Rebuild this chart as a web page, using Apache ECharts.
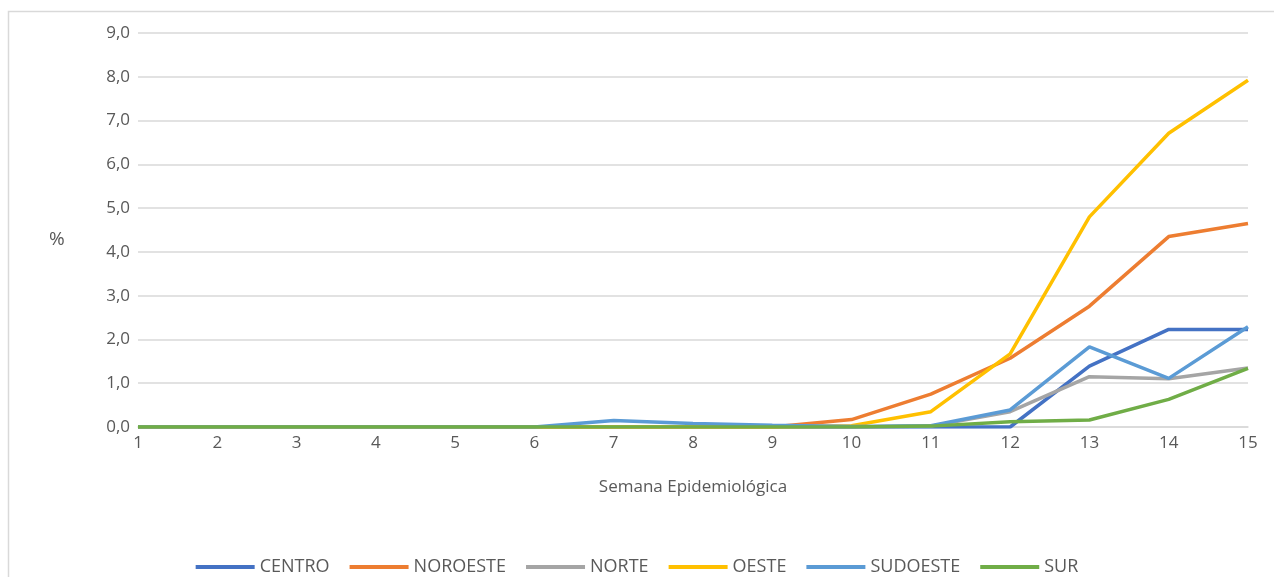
<!DOCTYPE html>
<html>
<head>
<meta charset="utf-8">
<script src="https://cdn.jsdelivr.net/npm/echarts@6/dist/echarts.min.js"></script>
<style>
  html, body { margin: 0; padding: 0; background: #ffffff; }
  #chart { width: 1274px; height: 577px; }
</style>
</head>
<body>
<div id="chart"></div>
<script>
  // semanas epidemiológicas (eje x)
  var semanas = ['1', '2', '3', '4', '5', '6', '7', '8', '9', '10', '11', '12', '13', '14', '15']

  // % por región
  var centro   = [0, 0, 0, 0, 0, 0, 0, 0, 0, 0, 0, 0, 1.39, 2.23, 2.23]
  var noroeste = [0, 0, 0, 0, 0, 0, 0, 0, 0, 0.17, 0.75, 1.57, 2.76, 4.35, 4.65]
  var norte    = [0, 0, 0, 0, 0, 0, 0, 0, 0, 0, 0.02, 0.35, 1.15, 1.10, 1.35]
  var oeste    = [0, 0, 0, 0, 0, 0, 0, 0, 0, 0.03, 0.35, 1.67, 4.80, 6.71, 7.92]
  var sudoeste = [0, 0, 0, 0, 0, 0, 0.15, 0.08, 0.04, 0.01, 0.03, 0.39, 1.83, 1.11, 2.29]
  var sur      = [0, 0, 0, 0, 0, 0, 0, 0, 0, 0, 0.02, 0.12, 0.16, 0.63, 1.34]

  var fuente = '"Open Sans", "Noto Sans", sans-serif'
  var gris = '#595959'

  function linea(nombre, datos, color) {
    return {
      name: nombre,
      type: 'line',
      data: datos,
      symbol: 'none',
      color: color,
      lineStyle: { width: 3.5, color: color },
      animation: false
    }
  }

  var chart = echarts.init(document.getElementById('chart'))
  var option = {
    backgroundColor: '#ffffff',
    grid: { left: 138, right: 26, top: 33, bottom: 150 },
    graphic: [
      {
        type: 'rect',
        shape: { x: 8.5, y: 11.5, width: 1300, height: 600 },
        style: { fill: 'none', stroke: '#d9d9d9', lineWidth: 1.5 },
        silent: true
      },
      {
        type: 'text',
        left: 49,
        top: 230,
        style: { text: '%', fill: gris, font: '19px ' + fuente }
      }
    ],
    xAxis: {
      type: 'category',
      data: semanas,
      boundaryGap: false,
      name: 'Semana Epidemiológica',
      nameLocation: 'middle',
      nameGap: 52,
      nameTextStyle: { color: gris, fontSize: 17, fontFamily: fuente },
      axisLine: { lineStyle: { color: '#d9d9d9', width: 1.5 } },
      axisTick: { show: false },
      axisLabel: { color: gris, fontSize: 17, fontFamily: fuente, margin: 8 },
      splitLine: { show: false }
    },
    yAxis: {
      type: 'value',
      min: 0,
      max: 9,
      interval: 1,
      axisLine: { show: false },
      axisTick: { show: false },
      axisLabel: {
        color: gris,
        fontSize: 17,
        fontFamily: fuente,
        margin: 8,
        formatter: function (v) { return v.toFixed(1).replace('.', ',') }
      },
      splitLine: { lineStyle: { color: '#d9d9d9', width: 1.5 } }
    },
    legend: {
      top: 553,
      left: 'center',
      icon: 'rect',
      itemWidth: 59,
      itemHeight: 4,
      itemGap: 20,
      textStyle: { color: gris, fontSize: 18, fontFamily: fuente },
      data: ['CENTRO', 'NOROESTE', 'NORTE', 'OESTE', 'SUDOESTE', 'SUR']
    },
    series: [
      linea('CENTRO', centro, '#4472C4'),
      linea('NOROESTE', noroeste, '#ED7D31'),
      linea('NORTE', norte, '#A5A5A5'),
      linea('OESTE', oeste, '#FFC000'),
      linea('SUDOESTE', sudoeste, '#5B9BD5'),
      linea('SUR', sur, '#70AD47')
    ]
  }
  chart.setOption(option)
</script>
</body>
</html>
